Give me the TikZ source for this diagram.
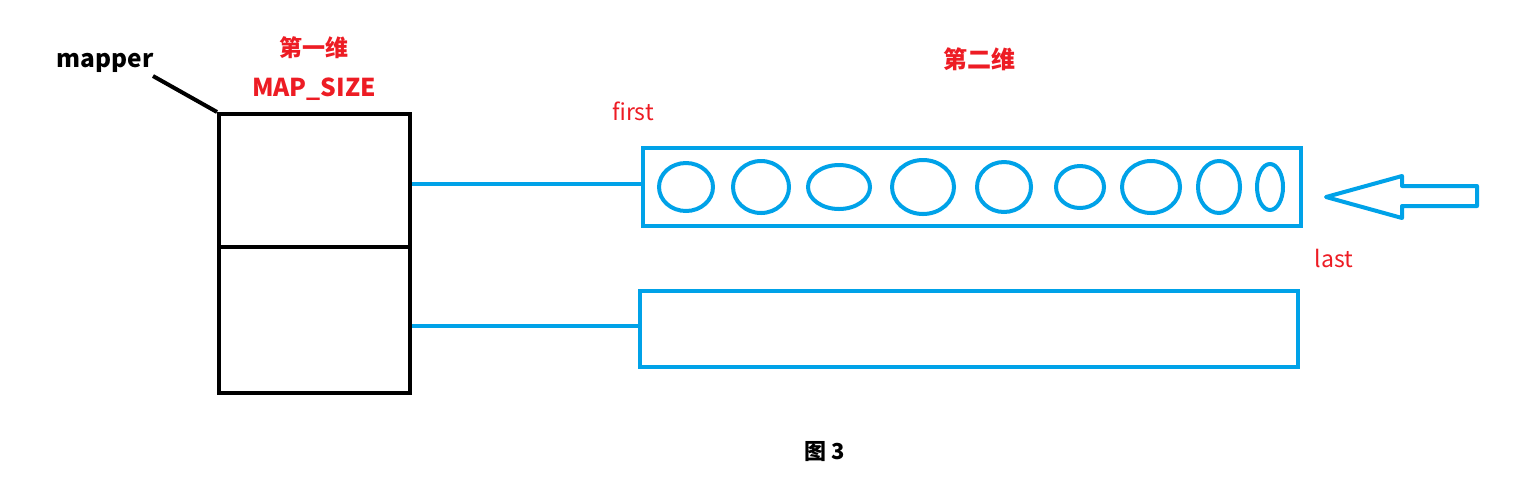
\documentclass[tikz,border=0pt]{standalone}
\usepackage{fontspec}
\setmainfont{Noto Sans CJK SC}
\usetikzlibrary{shapes.geometric}
\definecolor{tred}{RGB}{237,28,36}
\definecolor{tblue}{RGB}{0,162,232}
\tikzset{
  cell/.style={draw,line width=2pt,minimum width=95.5pt,inner sep=0pt},
  row/.style={draw=tblue,line width=2pt,minimum width=329pt,inner sep=0pt},
  blob/.style={draw=tblue,line width=2pt,ellipse,inner sep=0pt},
  redlbl/.style={text=tred,font=\bfseries\fontsize{11.5pt}{13pt}\selectfont},
  redtxt/.style={text=tred,font=\fontsize{11.5pt}{13pt}\selectfont}
}
\begin{document}
\begin{tikzpicture}[x=0.5pt,y=-0.5pt]
\useasboundingbox(0,0)rectangle(1513,494);
% first dimension
\node[cell,minimum height=66.5pt](upper)at(314.5,180.5){};
\node[cell,minimum height=73pt](lower)at(314.5,320){};
\node[font=\bfseries\fontsize{12.2pt}{14pt}\selectfont](mapper)at(105,63){mapper};
\draw[line width=2pt](153,76)--(upper.north west);
\node[redlbl](dim1)at(314,48){第一维};
\node[redlbl,font=\bfseries\fontsize{12.3pt}{14pt}\selectfont](size)at(314,89){MAP\_SIZE};
% second dimension
\node[redlbl,font=\bfseries\fontsize{12pt}{14pt}\selectfont](dim2)at(979,59){第二维};
\node[row,minimum height=39pt](listA)at(972,187){};
\node[row,minimum height=38pt](listB)at(969,329){};
\draw[tblue,line width=2pt]([yshift=1.5pt]upper.east|-listA.west)--([yshift=1.5pt]listA.west);
\draw[tblue,line width=2pt]([yshift=1.5pt]lower.east|-listB.west)--([yshift=1.5pt]listB.west);
\foreach \i/\cx/\rx/\ry in {1/686/27/24,2/761/28/26,3/839/31/22,4/923/31/27,5/1004/27/25,
  6/1080/24/21,7/1151/29/26,8/1219/21/26,9/1270/13/23}
  \node[blob,minimum width=\rx pt,minimum height=\ry pt](e\i)at(\cx,187){};
\node[redtxt](first)at(633,111){first};
\node[redtxt](last)at(1334,258){last};
% push arrow
\draw[tblue,line width=2pt,line join=round](1326,197)--(1402,176)--(1402,186)--(1477,186)
  --(1477,206)--(1402,206)--(1402,218)--cycle;
\node[font=\bfseries\fontsize{11pt}{13pt}\selectfont](cap)at(825,452){图\ 3};
\end{tikzpicture}
\end{document}
